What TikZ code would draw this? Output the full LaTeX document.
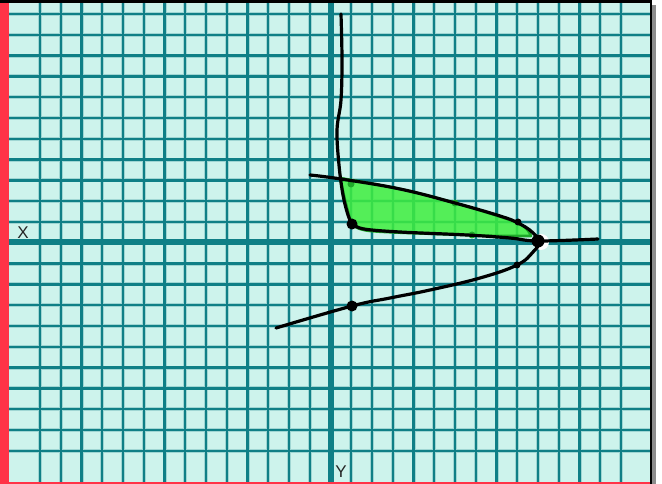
\documentclass[tikz,border=0pt]{standalone}
\usepackage{fontspec}
\setsansfont{Liberation Sans}
\definecolor{paper}{HTML}{CDF3EC}
\definecolor{gridteal}{HTML}{0F7F86}
\definecolor{halo}{HTML}{9FD6D3}
\definecolor{edgered}{HTML}{FF3347}
\definecolor{regionfill}{HTML}{3FEE3F}
\definecolor{regionedge}{HTML}{1FA82A}
\begin{document}
\begin{tikzpicture}[x=1pt,y=-1pt,
  gridhalo/.style={line width=4pt,draw=halo},
  gridline/.style={line width=2.4pt,draw=gridteal},
  axisline/.style={line width=6pt,draw=gridteal},
  curve/.style={line width=3.2pt,line cap=round,line join=round},
  dot/.style={fill=black,circle,inner sep=0pt,minimum size=#1},
  gdot/.style={fill=regionedge,circle,inner sep=0pt,minimum size=7pt},
  axislabel/.style={font=\fontsize{17}{17}\selectfont\sffamily,text=black!85,inner sep=0pt},
]
  \useasboundingbox (0,0) rectangle (662,484);
  % frame and paper
  \fill[white] (0,0) rectangle (662,484);
  \fill[black!45] (651,5) rectangle (656,484);
  \fill[paper] (9,3) rectangle (651,484);
  \fill[black] (0,0) rectangle (652,3);
  \fill[black] (650,3) rectangle (652,484);
  \fill[edgered] (0,3) rectangle (9,484);
  \fill[edgered] (9,482) rectangle (650,484);

  % grid
  \foreach \k in {0,...,28}
    \draw[gridhalo] ({40+20.75*\k},3) -- ({40+20.75*\k},482);
  \foreach \j in {0,...,21}
    \draw[gridhalo] (9,{14+20.8*\j}) -- (650,{14+20.8*\j});
  \foreach \k in {0,...,28}
    \draw[gridline] ({40+20.75*\k},3) -- ({40+20.75*\k},482);
  \foreach \j in {0,...,21}
    \draw[gridline] (9,{14+20.8*\j}) -- (650,{14+20.8*\j});

  % axes
  \draw[axisline] (330.5,3) -- (330.5,482);
  \draw[axisline] (9,242.5) -- (650,242.5);
  \node[axislabel] (xlab) at (23,233) {X};
  \node[axislabel] (ylab) at (341,472) {Y};

  % shaded region
  \fill[white] (541,242) circle (8pt);
  \draw[regionedge,line width=2.6pt,fill=regionfill,fill opacity=0.85,line join=round]
    plot[smooth,tension=0.5] coordinates {(340,178) (400,189) (455,203) (518,223) (531,236)}
    -- plot[smooth,tension=0.5] coordinates {(500,236) (467,235) (370,231) (351,223)}
    -- plot[smooth,tension=0.5] coordinates {(345,200) (340,178)} -- cycle;
  \node[gdot] (g1) at (351,184) {};
  \node[gdot] (g2) at (455,203) {};
  \node[gdot] (g3) at (472,235) {};

  % curves
  \draw[curve] plot[smooth,tension=0.6] coordinates
    {(341,14) (342,60) (341,100) (337,130) (339,165) (343,195) (348,215) (352,224)};
  \draw[curve] plot[smooth,tension=0.6] coordinates
    {(352,224) (364,229) (400,232) (467,235) (510,238) (538,241) (598,239)};
  \draw[curve] plot[smooth,tension=0.7] coordinates
    {(310,175) (341,179) (400,189) (455,203) (500,216) (518,223) (532,232) (539,242)
     (533,252) (517,265) (480,278) (430,290) (390,298) (352,306) (276,328)};

  % marked points
  \node[dot=11pt] (p1) at (352,224) {};
  \node[dot=7pt] (p2) at (518,222) {};
  \node[dot=13pt] (p3) at (538,241) {};
  \node[dot=7pt] (p4) at (517,265) {};
  \node[dot=11pt] (p5) at (352,306) {};
\end{tikzpicture}
\end{document}
